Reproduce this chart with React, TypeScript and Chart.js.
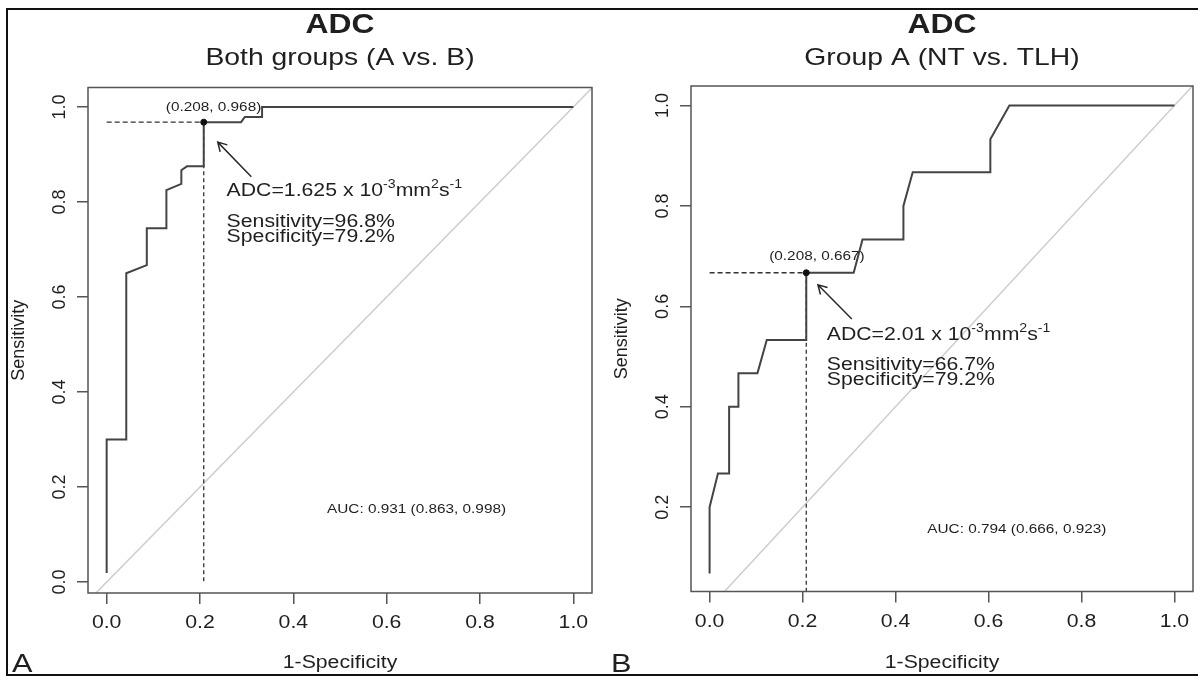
import React, { useEffect, useRef } from "react";
import { Chart, registerables, ChartConfiguration, Plugin } from "chart.js";

Chart.register(...registerables);

// ROC curve, both groups (A vs. B)
const fprA = [0, 0, 0.042, 0.042, 0.086, 0.086, 0.128, 0.128, 0.16, 0.16, 0.172, 0.208, 0.208, 0.288, 0.296, 0.333, 0.333, 1.0];
const tprA = [0.019, 0.3, 0.3, 0.65, 0.667, 0.745, 0.745, 0.825, 0.838, 0.867, 0.875, 0.875, 0.968, 0.968, 0.979, 0.979, 1.0, 1.0];

// ROC curve, group A (NT vs. TLH)
const fprB = [0, 0, 0.018, 0.042, 0.042, 0.062, 0.062, 0.103, 0.123, 0.208, 0.208, 0.31, 0.329, 0.417, 0.417, 0.437, 0.604, 0.604, 0.645, 1.0];
const tprB = [0.068, 0.2, 0.267, 0.267, 0.4, 0.4, 0.467, 0.467, 0.533, 0.533, 0.667, 0.667, 0.733, 0.733, 0.8, 0.867, 0.867, 0.933, 1.0, 1.0];

const xTicks = [0, 0.2, 0.4, 0.6, 0.8, 1.0];
const yTicksA = [0, 0.2, 0.4, 0.6, 0.8, 1.0];
const yTicksB = [0.2, 0.4, 0.6, 0.8, 1.0];

// best threshold (1-spec, sens), cut-off value, sensitivity %, specificity %
const thrA = [0.208, 0.968];
const thrB = [0.208, 0.667];
const cutoffA = "1.625";
const cutoffB = "2.01";
const sensA = 96.8;
const sensB = 66.7;
const specA = 79.2;
const specB = 79.2;
const aucA = [0.931, 0.863, 0.998];
const aucB = [0.794, 0.666, 0.923];

const FONT = '"Liberation Sans", Arial, Helvetica, sans-serif';
const SX = 1.18; // the original picture is stretched horizontally
const INK = "#1f1f1f";

type Panel = {
    letter: string;
    title: string;
    subtitle: string;
    fpr: number[];
    tpr: number[];
    yTicks: number[];
    thr: number[];
    cutoff: string;
    sens: number;
    spec: number;
    auc: number[];
    yMin: number;
    yMax: number;
    pad: { top: number; right: number };
    yWidth: number;
    xHeight: number;
    labelAt: number[];
    arrowFrom: number[];
    arrowTo: number[];
    textX: number;
    textY: number[];
    aucAt: number[];
};

const panels: Panel[] = [
    {
        letter: "A", title: "ADC", subtitle: "Both groups (A vs. B)",
        fpr: fprA, tpr: tprA, yTicks: yTicksA, thr: thrA, cutoff: cutoffA, sens: sensA, spec: specA, auc: aucA,
        yMin: -0.023, yMax: 1.041, pad: { top: 87.5, right: 7 }, yWidth: 88, xHeight: 86,
        labelAt: [0.229, 0.992], arrowFrom: [0.31, 0.853], arrowTo: [0.238, 0.926],
        textX: 0.257, textY: [0.813, 0.747, 0.716], aucAt: [0.664, 0.146],
    },
    {
        letter: "B", title: "ADC", subtitle: "Group A (NT vs. TLH)",
        fpr: fprB, tpr: tprB, yTicks: yTicksB, thr: thrB, cutoff: cutoffB, sens: sensB, spec: specB, auc: aucB,
        yMin: 0.032, yMax: 1.039, pad: { top: 86, right: 1 }, yWidth: 92, xHeight: 87.5,
        labelAt: [0.231, 0.693], arrowFrom: [0.306, 0.575], arrowTo: [0.233, 0.643],
        textX: 0.252, textY: [0.533, 0.473, 0.443], aucAt: [0.661, 0.149],
    },
];

function txt(ctx: CanvasRenderingContext2D, s: string, x: number, y: number, size: number,
             align: CanvasTextAlign = "left", bold = false) {
    ctx.save();
    ctx.font = `${bold ? "bold " : ""}${size}px ${FONT}`;
    ctx.fillStyle = INK;
    ctx.textAlign = align;
    ctx.textBaseline = "alphabetic";
    ctx.translate(x, y);
    ctx.scale(SX, 1);
    ctx.fillText(s, 0, 0);
    const w = ctx.measureText(s).width * SX;
    ctx.restore();
    return w;
}

function vtxt(ctx: CanvasRenderingContext2D, s: string, x: number, y: number, size: number) {
    ctx.save();
    ctx.font = `${size}px ${FONT}`;
    ctx.fillStyle = INK;
    ctx.textAlign = "center";
    ctx.textBaseline = "alphabetic";
    ctx.translate(x, y);
    ctx.rotate(-Math.PI / 2);
    ctx.fillText(s, 0, 0);
    ctx.restore();
}

function arrow(ctx: CanvasRenderingContext2D, x0: number, y0: number, x1: number, y1: number) {
    const a = Math.atan2(y1 - y0, x1 - x0);
    const len = 10;
    ctx.save();
    ctx.strokeStyle = "#2a2a2a";
    ctx.lineWidth = 1.5;
    ctx.beginPath();
    ctx.moveTo(x0, y0);
    ctx.lineTo(x1, y1);
    ctx.moveTo(x1 - len * Math.cos(a - Math.PI / 6), y1 - len * Math.sin(a - Math.PI / 6));
    ctx.lineTo(x1, y1);
    ctx.lineTo(x1 - len * Math.cos(a + Math.PI / 6), y1 - len * Math.sin(a + Math.PI / 6));
    ctx.stroke();
    ctx.restore();
}

const rocPlugin = (p: Panel): Plugin<"scatter"> => ({
    id: "rocDecor",
    afterDraw(chart) {
        const { ctx, chartArea: a } = chart;
        const x = chart.scales.x;
        const y = chart.scales.y;
        const cx = (a.left + a.right) / 2;

        // plot box
        ctx.save();
        ctx.strokeStyle = "#555";
        ctx.lineWidth = 1.5;
        ctx.strokeRect(a.left, a.top, a.right - a.left, a.bottom - a.top);
        ctx.restore();

        // tick labels
        xTicks.forEach(v => txt(ctx, v.toFixed(1), x.getPixelForValue(v), a.bottom + 35, 18, "center"));
        p.yTicks.forEach(v => vtxt(ctx, v.toFixed(1), a.left - 23, y.getPixelForValue(v), 18));

        // axis titles
        txt(ctx, "1-Specificity", cx, 668, 18, "center");
        vtxt(ctx, "Sensitivity", a.left - 64, (a.top + a.bottom) / 2, 18);

        // main titles and panel letter
        txt(ctx, p.title, cx, 33, 27, "center", true);
        txt(ctx, p.subtitle, cx, 65, 24, "center");
        txt(ctx, p.letter, 12, 672, 26);

        // threshold annotation
        txt(ctx, `(${p.thr[0].toFixed(3)}, ${p.thr[1].toFixed(3)})`,
            x.getPixelForValue(p.labelAt[0]), y.getPixelForValue(p.labelAt[1]), 13, "center");
        arrow(ctx, x.getPixelForValue(p.arrowFrom[0]), y.getPixelForValue(p.arrowFrom[1]),
            x.getPixelForValue(p.arrowTo[0]), y.getPixelForValue(p.arrowTo[1]));

        let tx = x.getPixelForValue(p.textX);
        const ty = y.getPixelForValue(p.textY[0]);
        const parts: [string, boolean][] = [
            [`ADC=${p.cutoff} x 10`, false], ["-3", true], ["mm", false], ["2", true], ["s", false], ["-1", true],
        ];
        parts.forEach(([s, sup]) => {
            tx += sup ? txt(ctx, s, tx, ty - 8, 12) : txt(ctx, s, tx, ty, 18);
        });
        const sx = x.getPixelForValue(p.textX);
        txt(ctx, `Sensitivity=${p.sens.toFixed(1)}%`, sx, y.getPixelForValue(p.textY[1]), 18);
        txt(ctx, `Specificity=${p.spec.toFixed(1)}%`, sx, y.getPixelForValue(p.textY[2]), 18);

        txt(ctx, `AUC: ${p.auc[0].toFixed(3)} (${p.auc[1].toFixed(3)}, ${p.auc[2].toFixed(3)})`,
            x.getPixelForValue(p.aucAt[0]), y.getPixelForValue(p.aucAt[1]), 13, "center");
    },
});

function RocPanel({ p, left }: { p: Panel; left: number }) {
    const ref = useRef<HTMLCanvasElement>(null);

    useEffect(() => {
        if (!ref.current) return;
        const [tx, ty] = p.thr;
        const tickGrid = { drawOnChartArea: false, drawTicks: true, tickLength: 11, color: "#555", lineWidth: 1.5 };
        const config: ChartConfiguration<"scatter"> = {
            type: "scatter",
            data: {
                datasets: [
                    {
                        label: "threshold",
                        data: [{ x: tx, y: ty }],
                        pointRadius: 3,
                        pointBackgroundColor: "#111",
                        pointBorderColor: "#111",
                        showLine: false,
                    },
                    {
                        label: "ROC",
                        data: p.fpr.map((v, i) => ({ x: v, y: p.tpr[i] })),
                        showLine: true,
                        borderColor: "#444",
                        borderWidth: 2,
                        pointRadius: 0,
                    },
                    {
                        label: "h",
                        data: [{ x: 0, y: ty }, { x: tx, y: ty }],
                        showLine: true,
                        borderDash: [5, 3],
                        borderColor: "#333",
                        borderWidth: 1.3,
                        pointRadius: 0,
                    },
                    {
                        label: "v",
                        data: [{ x: tx, y: ty }, { x: tx, y: 0 }],
                        showLine: true,
                        borderDash: [4, 3],
                        borderColor: "#333",
                        borderWidth: 1.3,
                        pointRadius: 0,
                    },
                    {
                        label: "chance",
                        data: [{ x: -0.1, y: -0.1 }, { x: 1.1, y: 1.1 }],
                        showLine: true,
                        borderColor: "#cdcdcd",
                        borderWidth: 1.5,
                        pointRadius: 0,
                    },
                ],
            },
            options: {
                animation: false,
                responsive: false,
                events: [],
                layout: { padding: { top: p.pad.top, right: p.pad.right, left: 0, bottom: 0 } },
                plugins: { legend: { display: false }, tooltip: { enabled: false }, title: { display: false } },
                scales: {
                    x: {
                        type: "linear",
                        min: -0.04,
                        max: 1.04,
                        afterBuildTicks: ax => { ax.ticks = xTicks.map(value => ({ value })); },
                        afterFit: ax => { ax.height = p.xHeight; },
                        ticks: { display: false },
                        grid: tickGrid,
                        border: { display: false },
                    },
                    y: {
                        type: "linear",
                        min: p.yMin,
                        max: p.yMax,
                        afterBuildTicks: ax => { ax.ticks = p.yTicks.map(value => ({ value })); },
                        afterFit: ax => { ax.width = p.yWidth; },
                        ticks: { display: false },
                        grid: tickGrid,
                        border: { display: false },
                    },
                },
            },
            plugins: [rocPlugin(p)],
        };
        const chart = new Chart(ref.current, config);
        return () => chart.destroy();
    }, [p]);

    return (
        <canvas
            ref={ref}
            width={599}
            height={679}
            style={{ position: "absolute", left, top: 0, width: 599, height: 679 }}
        />
    );
}

export default function App() {
    return (
        <div style={{ position: "fixed", left: 0, top: 0, width: 1198, height: 679, background: "#fff", overflow: "hidden" }}>
            <div
                style={{
                    position: "absolute", left: 6, top: 8, width: 1210, height: 668, boxSizing: "border-box",
                    borderTop: "2px solid #111", borderLeft: "2px solid #111", borderBottom: "2px solid #111",
                }}
            />
            <RocPanel p={panels[0]} left={0} />
            <RocPanel p={panels[1]} left={599} />
        </div>
    );
}
